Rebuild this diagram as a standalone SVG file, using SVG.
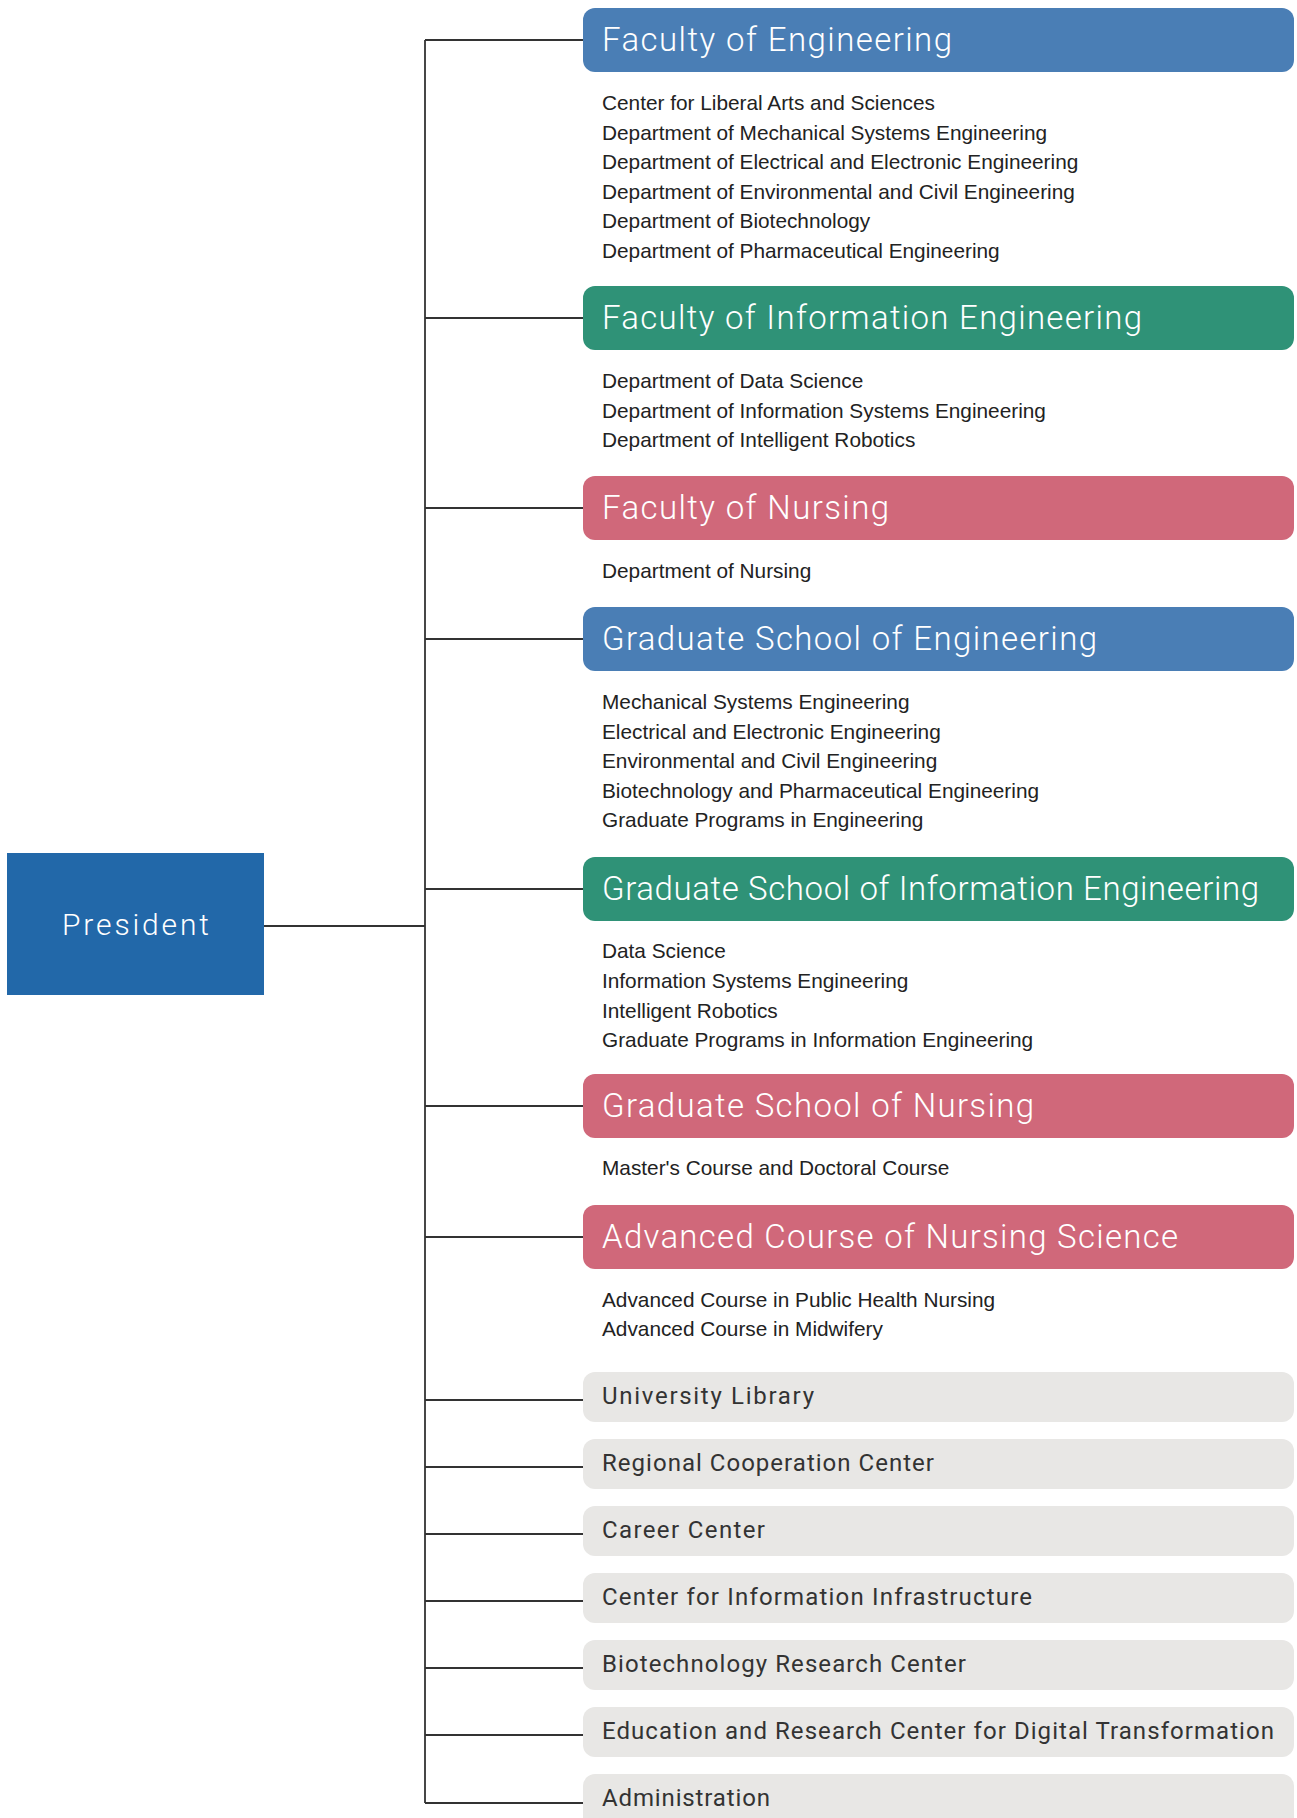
<svg xmlns="http://www.w3.org/2000/svg" width="1297" height="1818" viewBox="0 0 1297 1818">
<style>
.blue{fill:#4a7eb5}
.green{fill:#2f9277}
.pink{fill:#d0687a}
.gray{fill:#e8e7e5}
.ht{font-family:Roboto,"Liberation Sans",sans-serif;font-weight:300;font-size:33px;fill:#ffffff}
.gt{font-family:Roboto,"Liberation Sans",sans-serif;font-weight:400;font-size:24px;fill:#333333}
.st{font-family:"Liberation Sans",Arial,sans-serif;font-size:20.8px;fill:#222222}
.ln{stroke:#333333;stroke-width:1.8;fill:none}
</style>
<rect width="1297" height="1818" fill="#ffffff"/>
<g id="connectors">
<path class="ln" d="M425 40V1803M264 926H425M425 40H583M425 318H583M425 508H583M425 639H583M425 889H583M425 1106H583M425 1237H583M425 1400H583M425 1467H583M425 1534H583M425 1601H583M425 1668H583M425 1735H583M425 1803H583"/>
</g>
<g id="president">
<rect x="7" y="853" width="257" height="142" fill="#2268a9"/>
<text x="135.5" y="935" text-anchor="middle" font-family="Roboto,'Liberation Sans',sans-serif" font-weight="300" font-size="30" fill="#ffffff" textLength="147" lengthAdjust="spacing">President</text>
</g>
<g id="faculty-engineering">
<rect class="blue" x="583" y="8" width="711" height="64" rx="12"/>
<text class="ht" x="602" y="51" textLength="350" lengthAdjust="spacing">Faculty of Engineering</text>
<text class="st" x="602" y="110">Center for Liberal Arts and Sciences</text>
<text class="st" x="602" y="139.5">Department of Mechanical Systems Engineering</text>
<text class="st" x="602" y="169">Department of Electrical and Electronic Engineering</text>
<text class="st" x="602" y="198.5">Department of Environmental and Civil Engineering</text>
<text class="st" x="602" y="228">Department of Biotechnology</text>
<text class="st" x="602" y="257.5">Department of Pharmaceutical Engineering</text>
</g>
<g id="faculty-information-engineering">
<rect class="green" x="583" y="286" width="711" height="64" rx="12"/>
<text class="ht" x="602" y="329" textLength="540" lengthAdjust="spacing">Faculty of Information Engineering</text>
<text class="st" x="602" y="388">Department of Data Science</text>
<text class="st" x="602" y="417.5">Department of Information Systems Engineering</text>
<text class="st" x="602" y="447">Department of Intelligent Robotics</text>
</g>
<g id="faculty-nursing">
<rect class="pink" x="583" y="476" width="711" height="64" rx="12"/>
<text class="ht" x="602" y="519" textLength="287" lengthAdjust="spacing">Faculty of Nursing</text>
<text class="st" x="602" y="578">Department of Nursing</text>
</g>
<g id="graduate-engineering">
<rect class="blue" x="583" y="607" width="711" height="64" rx="12"/>
<text class="ht" x="602" y="650" textLength="495" lengthAdjust="spacing">Graduate School of Engineering</text>
<text class="st" x="602" y="709">Mechanical Systems Engineering</text>
<text class="st" x="602" y="738.5">Electrical and Electronic Engineering</text>
<text class="st" x="602" y="768">Environmental and Civil Engineering</text>
<text class="st" x="602" y="797.5">Biotechnology and Pharmaceutical Engineering</text>
<text class="st" x="602" y="827">Graduate Programs in Engineering</text>
</g>
<g id="graduate-information-engineering">
<rect class="green" x="583" y="857" width="711" height="64" rx="12"/>
<text class="ht" x="602" y="900" textLength="657" lengthAdjust="spacing">Graduate School of Information Engineering</text>
<text class="st" x="602" y="958">Data Science</text>
<text class="st" x="602" y="988">Information Systems Engineering</text>
<text class="st" x="602" y="1018">Intelligent Robotics</text>
<text class="st" x="602" y="1047">Graduate Programs in Information Engineering</text>
</g>
<g id="graduate-nursing">
<rect class="pink" x="583" y="1074" width="711" height="64" rx="12"/>
<text class="ht" x="602" y="1117" textLength="432" lengthAdjust="spacing">Graduate School of Nursing</text>
<text class="st" x="602" y="1175">Master's Course and Doctoral Course</text>
</g>
<g id="advanced-nursing">
<rect class="pink" x="583" y="1205" width="711" height="64" rx="12"/>
<text class="ht" x="602" y="1248" textLength="576" lengthAdjust="spacing">Advanced Course of Nursing Science</text>
<text class="st" x="602" y="1306.5">Advanced Course in Public Health Nursing</text>
<text class="st" x="602" y="1336">Advanced Course in Midwifery</text>
</g>
<g id="university-library">
<rect class="gray" x="583" y="1372" width="711" height="50" rx="12"/>
<text class="gt" x="602" y="1404" textLength="212" lengthAdjust="spacing">University Library</text>
</g>
<g id="regional-cooperation-center">
<rect class="gray" x="583" y="1439" width="711" height="50" rx="12"/>
<text class="gt" x="602" y="1471" textLength="332" lengthAdjust="spacing">Regional Cooperation Center</text>
</g>
<g id="career-center">
<rect class="gray" x="583" y="1506" width="711" height="50" rx="12"/>
<text class="gt" x="602" y="1538" textLength="163" lengthAdjust="spacing">Career Center</text>
</g>
<g id="center-information-infrastructure">
<rect class="gray" x="583" y="1573" width="711" height="50" rx="12"/>
<text class="gt" x="602" y="1605" textLength="430" lengthAdjust="spacing">Center for Information Infrastructure</text>
</g>
<g id="biotechnology-research-center">
<rect class="gray" x="583" y="1640" width="711" height="50" rx="12"/>
<text class="gt" x="602" y="1672" textLength="364" lengthAdjust="spacing">Biotechnology Research Center</text>
</g>
<g id="digital-transformation-center">
<rect class="gray" x="583" y="1707" width="711" height="50" rx="12"/>
<text class="gt" x="602" y="1739" textLength="672" lengthAdjust="spacing">Education and Research Center for Digital Transformation</text>
</g>
<g id="administration">
<rect class="gray" x="583" y="1774" width="711" height="60" rx="12"/>
<text class="gt" x="602" y="1806" textLength="168" lengthAdjust="spacing">Administration</text>
</g>
</svg>
